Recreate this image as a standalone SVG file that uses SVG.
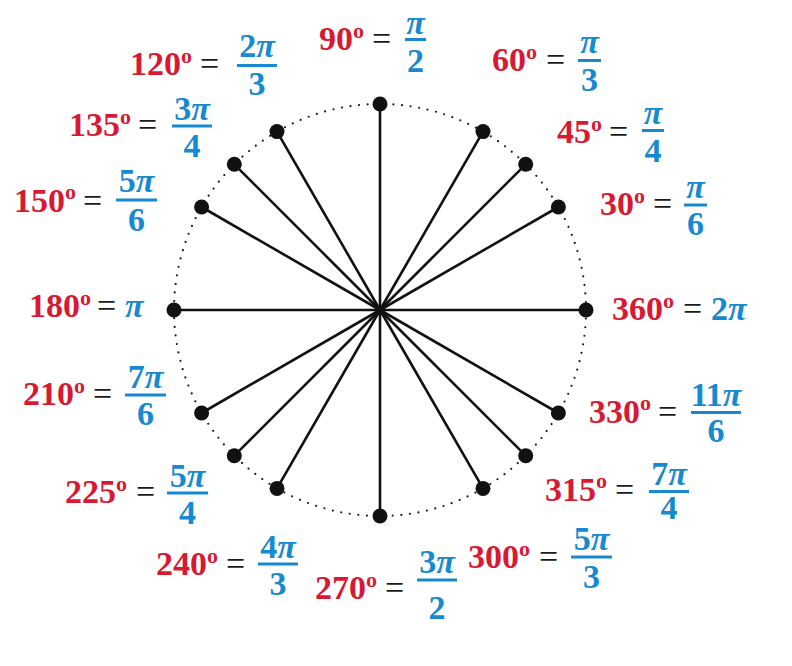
<svg xmlns="http://www.w3.org/2000/svg" width="792" height="666" viewBox="0 0 792 666">
<style>
.d{font-family:"Liberation Serif",serif;font-weight:bold;font-size:34px;fill:#d71a32}
.o{font-size:22px}
.e{font-family:"Liberation Serif",serif;font-size:34px;fill:#1a1a1a}
.f{font-family:"Liberation Serif",serif;font-weight:bold;font-size:34px;fill:#1689d0;text-anchor:middle}
.s{font-family:"Liberation Serif",serif;font-weight:bold;font-size:34px;fill:#1689d0}
.p{font-style:italic}
.bar{stroke:#1689d0;stroke-width:3}
.ray{stroke:#111;stroke-width:2.6}
.pt{fill:#111}
</style>
<rect width="792" height="666" fill="#fff"/>
<circle cx="380" cy="310" r="206" fill="none" stroke="#1a1a1a" stroke-width="2.2" stroke-linecap="round" stroke-dasharray="0 8.63"/>
<g id="connectors">
<line class="ray" x1="380" y1="310" x2="586" y2="310"/>
<line class="ray" x1="380" y1="310" x2="558.4" y2="207"/>
<line class="ray" x1="380" y1="310" x2="525.7" y2="164.3"/>
<line class="ray" x1="380" y1="310" x2="483" y2="131.6"/>
<line class="ray" x1="380" y1="310" x2="380" y2="104"/>
<line class="ray" x1="380" y1="310" x2="277" y2="131.6"/>
<line class="ray" x1="380" y1="310" x2="234.3" y2="164.3"/>
<line class="ray" x1="380" y1="310" x2="201.6" y2="207"/>
<line class="ray" x1="380" y1="310" x2="174" y2="310"/>
<line class="ray" x1="380" y1="310" x2="201.6" y2="413"/>
<line class="ray" x1="380" y1="310" x2="234.3" y2="455.7"/>
<line class="ray" x1="380" y1="310" x2="277" y2="488.4"/>
<line class="ray" x1="380" y1="310" x2="380" y2="516"/>
<line class="ray" x1="380" y1="310" x2="483" y2="488.4"/>
<line class="ray" x1="380" y1="310" x2="525.7" y2="455.7"/>
<line class="ray" x1="380" y1="310" x2="558.4" y2="413"/>
</g>
<g id="points">
<circle class="pt" cx="586" cy="310" r="7.5"/>
<circle class="pt" cx="558.4" cy="207" r="7.5"/>
<circle class="pt" cx="525.7" cy="164.3" r="7.5"/>
<circle class="pt" cx="483" cy="131.6" r="7.5"/>
<circle class="pt" cx="380" cy="104" r="7.5"/>
<circle class="pt" cx="277" cy="131.6" r="7.5"/>
<circle class="pt" cx="234.3" cy="164.3" r="7.5"/>
<circle class="pt" cx="201.6" cy="207" r="7.5"/>
<circle class="pt" cx="174" cy="310" r="7.5"/>
<circle class="pt" cx="201.6" cy="413" r="7.5"/>
<circle class="pt" cx="234.3" cy="455.7" r="7.5"/>
<circle class="pt" cx="277" cy="488.4" r="7.5"/>
<circle class="pt" cx="380" cy="516" r="7.5"/>
<circle class="pt" cx="483" cy="488.4" r="7.5"/>
<circle class="pt" cx="525.7" cy="455.7" r="7.5"/>
<circle class="pt" cx="558.4" cy="413" r="7.5"/>
</g>
<g id="l90">
<text class="d" x="319" y="50">90<tspan class="o" dy="-12.5">o</tspan></text>
<text class="e" x="372" y="50">=</text>
<text class="f p" x="415.5" y="34">π</text>
<line class="bar" x1="405" y1="39.5" x2="426" y2="39.5"/>
<text class="f" x="415.5" y="72">2</text>
</g>
<g id="l120">
<text class="d" x="130" y="75">120<tspan class="o" dy="-12.5">o</tspan></text>
<text class="e" x="200" y="75">=</text>
<text class="f" x="257" y="57">2<tspan class="p">π</tspan></text>
<line class="bar" x1="237" y1="65.5" x2="277" y2="65.5"/>
<text class="f" x="257" y="95">3</text>
</g>
<g id="l60">
<text class="d" x="492" y="71">60<tspan class="o" dy="-12.5">o</tspan></text>
<text class="e" x="546" y="71">=</text>
<text class="f p" x="589.5" y="53">π</text>
<line class="bar" x1="578" y1="60.5" x2="601" y2="60.5"/>
<text class="f" x="589.5" y="91">3</text>
</g>
<g id="l45">
<text class="d" x="557" y="143">45<tspan class="o" dy="-12.5">o</tspan></text>
<text class="e" x="609" y="143">=</text>
<text class="f p" x="653" y="124">π</text>
<line class="bar" x1="642" y1="130.5" x2="664" y2="130.5"/>
<text class="f" x="653" y="162">4</text>
</g>
<g id="l135">
<text class="d" x="69" y="136">135<tspan class="o" dy="-12.5">o</tspan></text>
<text class="e" x="138" y="136">=</text>
<text class="f" x="192" y="120">3<tspan class="p">π</tspan></text>
<line class="bar" x1="172" y1="126" x2="212" y2="126"/>
<text class="f" x="192" y="157">4</text>
</g>
<g id="l150">
<text class="d" x="14" y="211.5">150<tspan class="o" dy="-12.5">o</tspan></text>
<text class="e" x="83" y="211.5">=</text>
<text class="f" x="136.5" y="192">5<tspan class="p">π</tspan></text>
<line class="bar" x1="116" y1="200" x2="157" y2="200"/>
<text class="f" x="136.5" y="231">6</text>
</g>
<g id="l30">
<text class="d" x="600" y="215">30<tspan class="o" dy="-12.5">o</tspan></text>
<text class="e" x="653" y="215">=</text>
<text class="f p" x="695.5" y="198">π</text>
<line class="bar" x1="684" y1="205" x2="707" y2="205"/>
<text class="f" x="695.5" y="235">6</text>
</g>
<g id="l180">
<text class="d" x="29" y="317">180<tspan class="o" dy="-12.5">o</tspan></text>
<text class="e" x="97" y="317">=</text>
<text class="s p" x="125" y="317">π</text>
</g>
<g id="l360">
<text class="d" x="612" y="320">360<tspan class="o" dy="-12.5">o</tspan></text>
<text class="e" x="683" y="320">=</text>
<text class="s" x="711" y="320">2<tspan class="p">π</tspan></text>
</g>
<g id="l210">
<text class="d" x="23" y="405">210<tspan class="o" dy="-12.5">o</tspan></text>
<text class="e" x="93" y="405">=</text>
<text class="f" x="145.5" y="388">7<tspan class="p">π</tspan></text>
<line class="bar" x1="125" y1="395" x2="166" y2="395"/>
<text class="f" x="145.5" y="425">6</text>
</g>
<g id="l330">
<text class="d" x="589" y="422.5">330<tspan class="o" dy="-12.5">o</tspan></text>
<text class="e" x="658" y="422.5">=</text>
<text class="f" x="716" y="406">11<tspan class="p">π</tspan></text>
<line class="bar" x1="691" y1="412.5" x2="741" y2="412.5"/>
<text class="f" x="716" y="442">6</text>
</g>
<g id="l225">
<text class="d" x="65" y="503">225<tspan class="o" dy="-12.5">o</tspan></text>
<text class="e" x="136" y="503">=</text>
<text class="f" x="187.5" y="487">5<tspan class="p">π</tspan></text>
<line class="bar" x1="167" y1="493" x2="208" y2="493"/>
<text class="f" x="187.5" y="524">4</text>
</g>
<g id="l315">
<text class="d" x="545" y="500.5">315<tspan class="o" dy="-12.5">o</tspan></text>
<text class="e" x="615" y="500.5">=</text>
<text class="f" x="669" y="485">7<tspan class="p">π</tspan></text>
<line class="bar" x1="649" y1="491.5" x2="689" y2="491.5"/>
<text class="f" x="669" y="519">4</text>
</g>
<g id="l240">
<text class="d" x="156" y="575">240<tspan class="o" dy="-12.5">o</tspan></text>
<text class="e" x="226" y="575">=</text>
<text class="f" x="278" y="558">4<tspan class="p">π</tspan></text>
<line class="bar" x1="258" y1="564" x2="298" y2="564"/>
<text class="f" x="278" y="595">3</text>
</g>
<g id="l270">
<text class="d" x="315" y="599">270<tspan class="o" dy="-12.5">o</tspan></text>
<text class="e" x="385" y="599">=</text>
<text class="f" x="437" y="573">3<tspan class="p">π</tspan></text>
<line class="bar" x1="417" y1="580" x2="457" y2="580"/>
<text class="f" x="437" y="619">2</text>
</g>
<g id="l300">
<text class="d" x="468" y="568">300<tspan class="o" dy="-12.5">o</tspan></text>
<text class="e" x="539" y="568">=</text>
<text class="f" x="591.5" y="550">5<tspan class="p">π</tspan></text>
<line class="bar" x1="571" y1="557" x2="612" y2="557"/>
<text class="f" x="591.5" y="588">3</text>
</g>
</svg>
